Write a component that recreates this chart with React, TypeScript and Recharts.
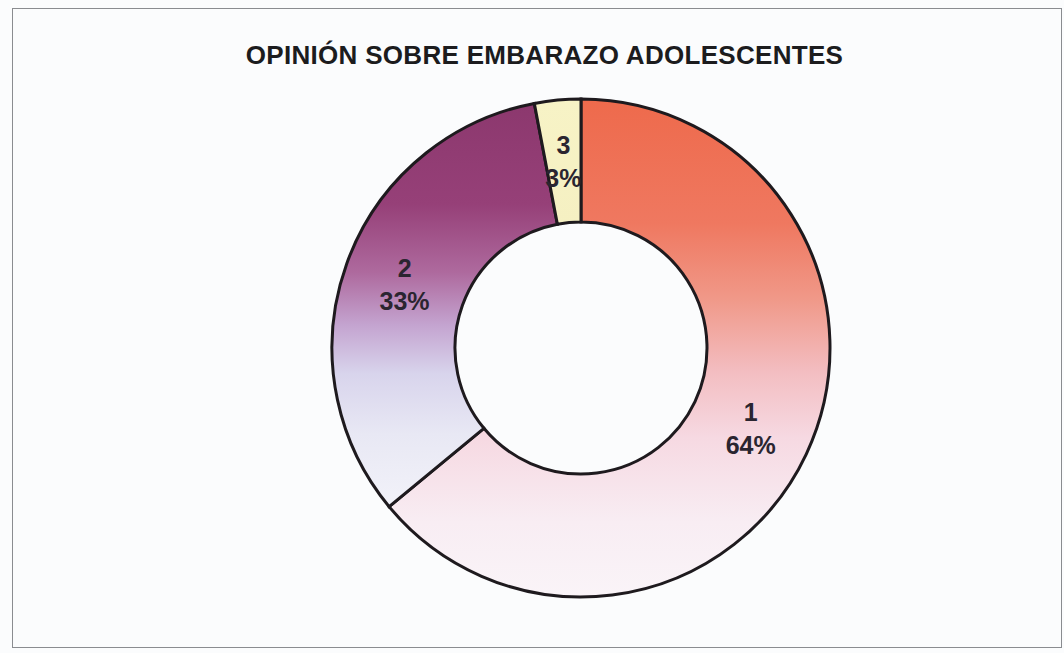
import React from 'react'
import { PieChart, Pie, Cell } from 'recharts'

const categories = ['1', '2', '3']
const values = [64, 33, 3]
const gradientIds = ['grad1', 'grad2', 'grad3']

const data = categories.map((name, i) => ({ name, value: values[i] }))

const RADIAN = Math.PI / 180

const renderLabel = (props: any) => {
  const { cx, cy, midAngle, innerRadius, outerRadius, name, value } = props
  const r = (innerRadius + outerRadius) / 2
  const x = cx + r * Math.cos(-midAngle * RADIAN)
  const y = cy + r * Math.sin(-midAngle * RADIAN)
  return (
    <text
      x={x}
      y={y}
      textAnchor="middle"
      fill="#2a2530"
      fontFamily="'Liberation Sans', Arial, sans-serif"
      fontWeight="bold"
      fontSize={25}
    >
      <tspan x={x} dy={-7}>{name}</tspan>
      <tspan x={x} dy={33}>{`${value}%`}</tspan>
    </text>
  )
}

export default function App() {
  return (
    <div
      style={{
        position: 'absolute',
        left: 0,
        top: 0,
        width: 1064,
        height: 653,
        background: '#fbfcfd',
        overflow: 'hidden',
      }}
    >
      <div
        style={{
          position: 'absolute',
          left: 12,
          top: 8,
          width: 1050,
          height: 640,
          border: '1.5px solid #8a8c90',
          boxSizing: 'border-box',
        }}
      />
      <div
        style={{
          position: 'absolute',
          left: 0,
          width: 1089,
          top: 40,
          textAlign: 'center',
          fontFamily: "'Liberation Sans', Arial, sans-serif",
          fontWeight: 'bold',
          fontSize: 26,
          color: '#1c1c1e',
          letterSpacing: 0.3,
        }}
      >
        OPINIÓN SOBRE EMBARAZO ADOLESCENTES
      </div>
      <div style={{ position: 'absolute', left: 0, top: 0 }}>
        <PieChart width={1064} height={653} margin={{ top: 0, right: 0, bottom: 0, left: 0 }}>
          <defs>
            <linearGradient id="grad1" x1="0" y1="0" x2="0" y2="1">
              <stop offset="0%" stopColor="#ee6a4c" />
              <stop offset="25%" stopColor="#ef7860" />
              <stop offset="40%" stopColor="#f09888" />
              <stop offset="55%" stopColor="#f3bec2" />
              <stop offset="68%" stopColor="#f6d9e2" />
              <stop offset="85%" stopColor="#f8edf3" />
              <stop offset="100%" stopColor="#faf4f8" />
            </linearGradient>
            <linearGradient id="grad2" x1="0" y1="0" x2="0" y2="1">
              <stop offset="0%" stopColor="#8c386e" />
              <stop offset="25%" stopColor="#964078" />
              <stop offset="42%" stopColor="#ae6a9e" />
              <stop offset="55%" stopColor="#c4a4d0" />
              <stop offset="67%" stopColor="#d8d4ec" />
              <stop offset="82%" stopColor="#e8e8f4" />
              <stop offset="100%" stopColor="#f2f2f9" />
            </linearGradient>
            <linearGradient id="grad3" x1="0" y1="0" x2="0" y2="1">
              <stop offset="0%" stopColor="#f7f3c6" />
              <stop offset="100%" stopColor="#f5f0c2" />
            </linearGradient>
          </defs>
          <Pie
            data={data}
            dataKey="value"
            nameKey="name"
            cx={581}
            cy={348}
            innerRadius={126}
            outerRadius={249}
            startAngle={90}
            endAngle={-270}
            stroke="#1e1a1e"
            strokeWidth={3}
            label={renderLabel}
            labelLine={false}
            isAnimationActive={false}
          >
            {data.map((entry, index) => (
              <Cell key={`cell-${index}`} fill={`url(#${gradientIds[index]})`} />
            ))}
          </Pie>
        </PieChart>
      </div>
    </div>
  )
}
